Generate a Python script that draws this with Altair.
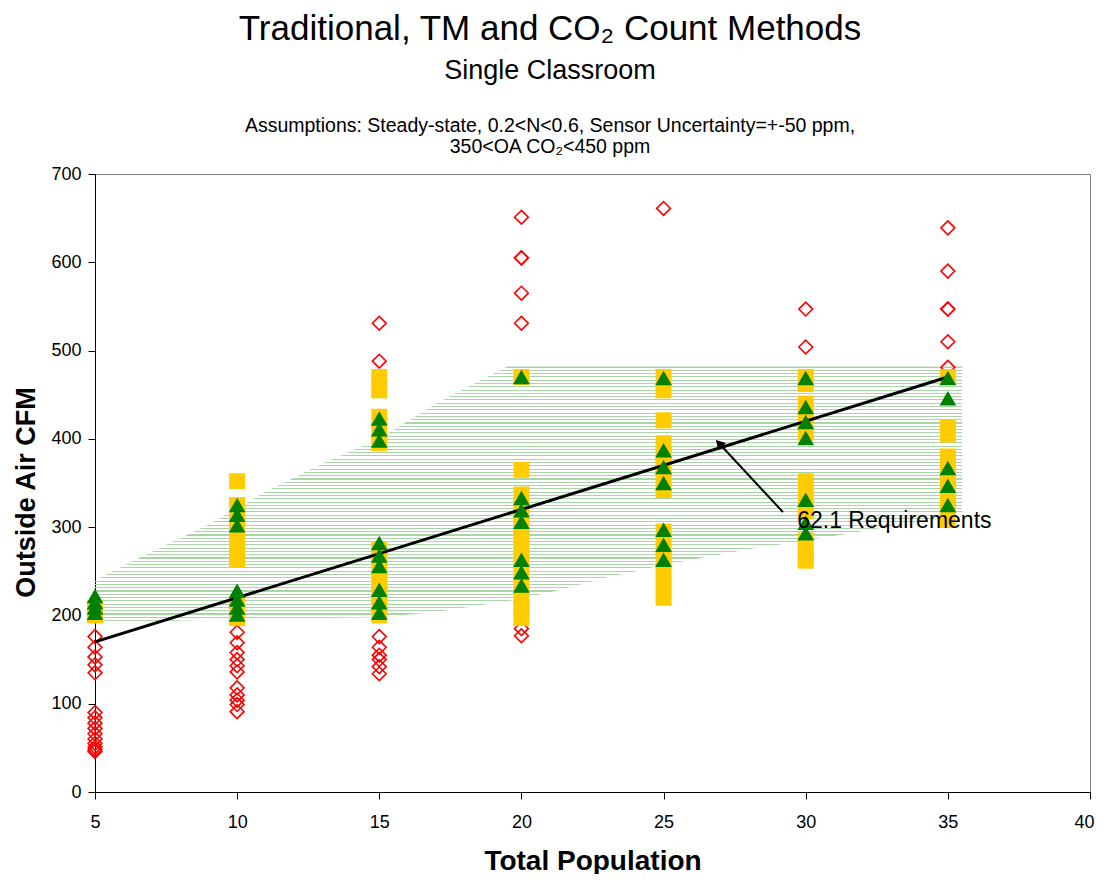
import altair as alt
import pandas as pd

FONT = "Liberation Sans"

# ---------------- data ----------------
populations = [5, 10, 15, 20, 25, 30, 35]

# Traditional method (red open diamonds)
trad_cfm = [
    [176, 164, 153, 144, 135, 90, 84, 78, 72, 66, 60, 55, 51, 48, 46],
    [181, 169, 158, 150, 143, 136, 118, 110, 104, 99, 91],
    [531, 488, 176, 164, 155, 150, 142, 134],
    [651, 605, 605, 565, 531, 185, 177],
    [661],
    [547, 504],
    [639, 590, 547, 547, 510, 481],
]

# TM method (yellow squares)
tm_cfm = [
    [208, 200],
    [352, 325, 310, 300, 283, 272, 263, 212, 197],
    [470, 455, 425, 410, 395, 275, 262, 250, 238, 225, 212, 200],
    [470, 365, 337, 325, 312, 300, 288, 275, 262, 250, 235, 220, 208, 197],
    [470, 455, 421, 395, 382, 368, 355, 342, 295, 278, 262, 247, 232, 220],
    [470, 462, 440, 425, 407, 352, 335, 318, 285, 270, 262],
    [470, 413, 405, 380, 365, 350, 335, 320, 308],
]

# CO2 count method (green triangles)
co2_cfm = [
    [222, 215, 209, 203],
    [325, 314, 302, 228, 218, 209, 201],
    [423, 411, 398, 282, 268, 256, 229, 215, 203],
    [470, 333, 319, 306, 263, 249, 234],
    [469, 387, 368, 350, 297, 280, 263],
    [469, 436, 419, 401, 331, 305, 293],
    [469, 446, 367, 347, 325],
]

# ASHRAE 62.1 requirement line
req_x = [5, 35]
req_y = [170, 470]

# shaded uncertainty band
band_x = [5, 7, 9, 11, 13, 15, 17, 19.5, 21, 23, 25, 28, 31, 35.5]
band_hi = [240, 272, 303, 340, 372, 400, 440, 482, 482, 482, 482, 482, 482, 482]
band_lo = [191, 193, 195, 196, 197, 198, 204, 216, 226, 243, 257, 275, 290, 315]

# annotation
ann_text = ["62.1 Requirements"]
ann_x = [29.7]
ann_y = [299]
arrow_x = [29.2]
arrow_y = [317]
arrow_x2 = [26.95]
arrow_y2 = [395]

title_main = "Traditional, TM and CO\u2082 Count Methods"
title_sub = "Single Classroom"
assump_1 = "Assumptions: Steady-state, 0.2<N<0.6, Sensor Uncertainty=+-50 ppm,"
assump_2 = "350<OA CO\u2082<450 ppm"


def flat(vals):
    xs, ys = [], []
    for p, col in zip(populations, vals):
        for v in col:
            xs.append(p)
            ys.append(v)
    return pd.DataFrame({"x": xs, "y": ys})


trad_df = flat(trad_cfm)
tm_df = flat(tm_cfm)
co2_df = flat(co2_cfm)
req_df = pd.DataFrame({"x": req_x, "y": req_y})
band_df = pd.DataFrame({"x": band_x, "y": band_hi, "y2": band_lo})
ann_df = pd.DataFrame({"x": ann_x, "y": ann_y, "t": ann_text})
arrow_df = pd.DataFrame({"x": arrow_x, "y": arrow_y, "x2": arrow_x2, "y2": arrow_y2})
head_df = pd.DataFrame({"x": arrow_x2, "y": arrow_y2})

W, H = 995, 618

X = alt.X(
    "x:Q",
    scale=alt.Scale(domain=[5, 40], nice=False, zero=False),
    axis=alt.Axis(
        values=[5, 10, 15, 20, 25, 30, 35, 40],
        title="Total Population",
        titleFontSize=28,
        titleFontWeight="bold",
        titleY=77,
        titleBaseline="alphabetic",
        labelFontSize=18,
        labelBaseline="alphabetic",
        labelPadding=28,
        labelAlign={"condition": {"test": "datum.value == 40", "value": "right"}, "value": "center"},
        labelOffset={"condition": {"test": "datum.value == 40", "value": 4}, "value": 0},
        tickSize=7,
        labelFlush=False,
    ),
)
Y = alt.Y(
    "y:Q",
    scale=alt.Scale(domain=[0, 700], nice=False),
    axis=alt.Axis(
        values=[0, 100, 200, 300, 400, 500, 600, 700],
        title="Outside Air CFM",
        titleFontSize=27,
        titleFontWeight="bold",
        titleAngle=270,
        titleX=-61,
        titleY=318,
        titleAlign="center",
        titleBaseline="alphabetic",
        labelFontSize=18,
        labelBaseline="middle",
        labelPadding=7,
        tickSize=7,
        labelFlush=False,
    ),
)

# dotted-looking band: thin horizontal stripes drawn with a gradient fill
n_rows = 78
stripe = "#a9d5a9"
clear = "rgba(255,255,255,0)"
stops = []
for i in range(n_rows):
    o0 = i / n_rows
    o1 = (i + 0.33) / n_rows
    stops += [
        alt.GradientStop(offset=o0, color=clear),
        alt.GradientStop(offset=o0, color=stripe),
        alt.GradientStop(offset=o1, color=stripe),
        alt.GradientStop(offset=o1, color=clear),
    ]
stops.append(alt.GradientStop(offset=1, color=clear))

band = alt.Chart(band_df).mark_area(
    color=alt.LinearGradient(gradient="linear", stops=stops, x1=0, x2=0, y1=0, y2=1),
).encode(x=X, y=Y, y2="y2:Q")

diamonds = alt.Chart(trad_df).mark_point(
    shape="diamond", filled=False, color="#FF0000", strokeWidth=1.6, size=190, opacity=1
).encode(x=X, y=Y)

squares = alt.Chart(tm_df).mark_point(
    shape="square", filled=True, color="#FFCC00", size=256, opacity=1
).encode(x=X, y=Y)

req_line = alt.Chart(req_df).mark_line(color="black", strokeWidth=3).encode(x=X, y=Y)

triangles = alt.Chart(co2_df).mark_point(
    shape="triangle-up", filled=True, color="#008000", size=280, opacity=1
).encode(x=X, y=Y)

arrow = alt.Chart(arrow_df).mark_rule(color="black", strokeWidth=2).encode(
    x=X, y=Y, x2="x2:Q", y2="y2:Q"
)
head = alt.Chart(head_df).mark_point(
    shape="triangle-up", filled=True, color="black", size=110, angle=316, opacity=1
).encode(x=X, y=Y)

ann = alt.Chart(ann_df).mark_text(
    align="left", baseline="alphabetic", font=FONT, fontSize=23, color="black"
).encode(x=X, y=Y, text="t:N")


def title_text(txt, size, ypx):
    return alt.Chart(pd.DataFrame({"t": [txt]})).mark_text(
        align="center", baseline="alphabetic", font=FONT, fontSize=size, color="black"
    ).encode(x=alt.value(455), y=alt.value(ypx), text="t:N")


t1 = title_text(title_main, 35, -134)
t2 = title_text(title_sub, 27, -95)
t3 = title_text(assump_1, 19.5, -42)
t4 = title_text(assump_2, 19.5, -21)

chart = (
    alt.layer(band, diamonds, squares, req_line, triangles, arrow, head, ann, t1, t2, t3, t4)
    .properties(
        width=W,
        height=H,
        padding={"left": 87, "top": 166, "right": 5, "bottom": 82},
        autosize=alt.AutoSizeParams(type="none"),
        background="white",
    )
    .configure_view(stroke="#808080", strokeWidth=1)
    .configure_axis(
        grid=False,
        domainColor="black",
        tickColor="black",
        labelColor="black",
        titleColor="black",
        labelFont=FONT,
        titleFont=FONT,
        domainWidth=1,
        tickWidth=1,
    )
)

chart.save("out.html", embed_options={"renderer": "svg", "actions": False})
